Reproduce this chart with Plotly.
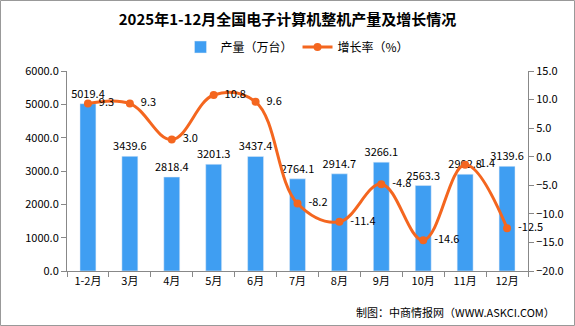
import plotly.graph_objects as go

categories = ["1-2月", "3月", "4月", "5月", "6月", "7月", "8月", "9月", "10月", "11月", "12月"]
output = [5019.4, 3439.6, 2818.4, 3201.3, 3437.4, 2764.1, 2914.7, 3266.1, 2563.3, 2902.8, 3139.6]
growth = [9.3, 9.3, 3.0, 10.8, 9.6, -8.2, -11.4, -4.8, -14.6, -1.4, -12.5]

W, H = 575, 326
L, R, T, B = 67, 47, 71, 55
pw, ph = W - L - R, H - T - B

def px(x):
    return (x - L) / pw

def py(y):
    return (H - B - y) / ph

font = "Noto Sans CJK SC"
tickfont = dict(family=font, size=11, color="#000")

fig = go.Figure()
fig.add_trace(go.Bar(
    x=categories, y=output, name="产量（万台）",
    marker=dict(color="#3f9ef2"), width=0.38,
    text=[f"{v:.1f}" for v in output], textposition="outside", constraintext="none",
    textfont=dict(family=font, size=11, color="#000"), cliponaxis=False,
))
fig.add_trace(go.Scatter(
    x=categories, y=growth, name="增长率（%）", yaxis="y2",
    mode="lines+markers+text",
    line=dict(color="#f4661f", width=3, shape="spline", smoothing=1.1),
    marker=dict(color="#f4661f", size=8),
    text=[f"  {v:.1f}" for v in growth], textposition="middle right",
    textfont=dict(family=font, size=11, color="#000"), cliponaxis=False,
))

axis_common = dict(showline=True, linecolor="#888", linewidth=1, ticks="outside",
                   tickcolor="#888", ticklen=5, showgrid=False, zeroline=False,
                   tickfont=tickfont)

fig.update_layout(
    width=W, height=H,
    margin=dict(l=L, r=R, t=T, b=B),
    paper_bgcolor="white", plot_bgcolor="rgba(0,0,0,0)",
    showlegend=True,
    legend=dict(orientation="h", x=0.5, xanchor="center", y=py(47), yanchor="middle",
                font=dict(family=font, size=12, color="#000"), itemwidth=30,
                bgcolor="rgba(0,0,0,0)"),
    title=dict(text="<b>2025年1-12月全国电子计算机整机产量及增长情况</b>",
               x=0.5, xanchor="center", y=1 - 20 / H, yanchor="middle",
               font=dict(family=font, size=15, color="#000")),
    xaxis=dict(**axis_common, tickson="boundaries", range=[-0.5, 10.5]),
    yaxis=dict(**axis_common, range=[0, 6000], dtick=1000, tickformat=".1f"),
    yaxis2=dict(**axis_common, overlaying="y", side="right", range=[-20, 15], dtick=5,
                tickformat=".1f"),
    bargap=0.6,
)

# frame around the picture
fig.add_shape(type="rect", xref="paper", yref="paper",
              x0=px(0.5), x1=px(W - 0.5), y0=py(0.5), y1=py(H - 0.5),
              line=dict(color="#999", width=1), fillcolor="rgba(0,0,0,0)", layer="above")

fig.add_annotation(xref="paper", yref="paper", x=px(557), y=py(312), xanchor="right", yanchor="middle",
                   text="制图：中商情报网（WWW.ASKCI.COM）", showarrow=False,
                   font=dict(family=font, size=11, color="#000"))

fig.write_html("out.html")
